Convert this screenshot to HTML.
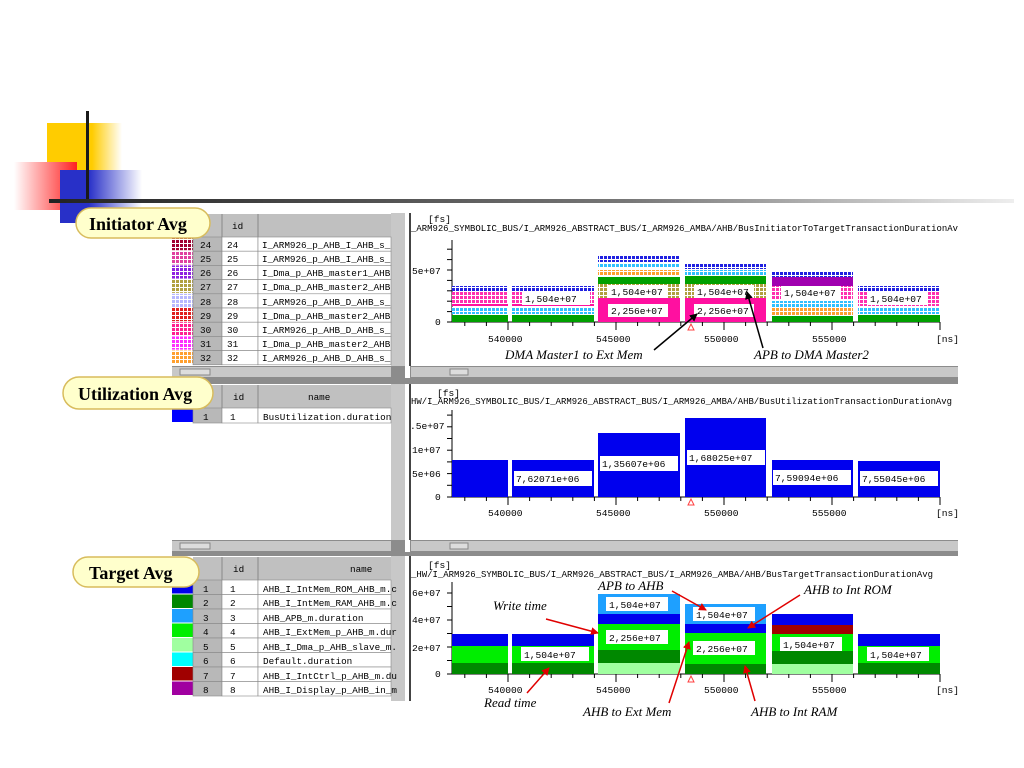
<!DOCTYPE html>
<html><head><meta charset="utf-8"><style>
html,body{margin:0;padding:0;background:#fff;width:1024px;height:768px;overflow:hidden}
svg{position:absolute;left:0;top:0}
.m{font-family:"Liberation Mono","DejaVu Sans Mono",monospace;font-size:9.3px;fill:#000}
.t{font-family:"Liberation Mono","DejaVu Sans Mono",monospace;font-size:9.6px;fill:#000}
.c{font-family:"Liberation Serif",serif;font-style:italic;font-size:13px;fill:#000}
.p{font-family:"Liberation Serif",serif;font-weight:bold;font-size:18px;fill:#000}
</style></head><body>
<svg width="1024" height="768" viewBox="0 0 1024 768" xmlns="http://www.w3.org/2000/svg">
<defs>
<linearGradient id="gy" x1="0" x2="1"><stop offset="0.6" stop-color="#ffcc00"/><stop offset="1" stop-color="#fff"/></linearGradient>
<linearGradient id="gr" x1="0" x2="1"><stop offset="0" stop-color="#fff"/><stop offset="1" stop-color="#ff2020"/></linearGradient>
<linearGradient id="gb" x1="0" x2="1"><stop offset="0.35" stop-color="#2830c8"/><stop offset="1" stop-color="#fff"/></linearGradient>
<linearGradient id="gl" x1="0" x2="1"><stop offset="0" stop-color="#222"/><stop offset="0.6" stop-color="#777"/><stop offset="1" stop-color="#eee"/></linearGradient>
<marker id="ab" markerWidth="8" markerHeight="8" refX="7" refY="4" orient="auto" markerUnits="userSpaceOnUse"><path d="M0,0 L8,4 L0,8 z" fill="#000"/></marker>
<marker id="ar" markerWidth="8" markerHeight="8" refX="7" refY="4" orient="auto" markerUnits="userSpaceOnUse"><path d="M0,0 L8,4 L0,8 z" fill="#e00000"/></marker>
</defs>

<!-- decoration -->
<rect x="47" y="123" width="75" height="47" fill="url(#gy)"/>
<rect x="14" y="162" width="63" height="48" fill="url(#gr)"/>
<rect x="60" y="170" width="82" height="53" fill="url(#gb)"/>
<rect x="86" y="111" width="3" height="92" fill="#1a1a1a"/>
<rect x="49" y="199" width="965" height="4" fill="url(#gl)"/>

<!-- frame backgrounds -->
<rect x="172" y="213" width="786" height="488" fill="#8c8c8c"/>
<g id="panels"></g>

<!-- Top table text -->
<g class="m">
<text x="232" y="229">id</text>
<text x="200" y="248">24</text><text x="227" y="248">24</text><text x="262" y="248">I_ARM926_p_AHB_I_AHB_s_</text>
<text x="200" y="262">25</text><text x="227" y="262">25</text><text x="262" y="262">I_ARM926_p_AHB_I_AHB_s_</text>
<text x="200" y="276">26</text><text x="227" y="276">26</text><text x="262" y="276">I_Dma_p_AHB_master1_AHB</text>
<text x="200" y="290">27</text><text x="227" y="290">27</text><text x="262" y="290">I_Dma_p_AHB_master2_AHB</text>
<text x="200" y="305">28</text><text x="227" y="305">28</text><text x="262" y="305">I_ARM926_p_AHB_D_AHB_s_</text>
<text x="200" y="319">29</text><text x="227" y="319">29</text><text x="262" y="319">I_Dma_p_AHB_master2_AHB</text>
<text x="200" y="333">30</text><text x="227" y="333">30</text><text x="262" y="333">I_ARM926_p_AHB_D_AHB_s_</text>
<text x="200" y="347">31</text><text x="227" y="347">31</text><text x="262" y="347">I_Dma_p_AHB_master2_AHB</text>
<text x="200" y="361">32</text><text x="227" y="361">32</text><text x="262" y="361">I_ARM926_p_AHB_D_AHB_s_</text>
<!-- middle -->
<text x="233" y="400">id</text><text x="308" y="400">name</text>
<text x="203" y="420">1</text><text x="230" y="420">1</text><text x="263" y="420">BusUtilization.duration</text>
<!-- bottom -->
<text x="233" y="572">id</text><text x="350" y="572">name</text>
<text x="203" y="592">1</text><text x="230" y="592">1</text><text x="263" y="592">AHB_I_IntMem_ROM_AHB_m.c</text>
<text x="203" y="606">2</text><text x="230" y="606">2</text><text x="263" y="606">AHB_I_IntMem_RAM_AHB_m.c</text>
<text x="203" y="621">3</text><text x="230" y="621">3</text><text x="263" y="621">AHB_APB_m.duration</text>
<text x="203" y="635">4</text><text x="230" y="635">4</text><text x="263" y="635">AHB_I_ExtMem_p_AHB_m.dur</text>
<text x="203" y="650">5</text><text x="230" y="650">5</text><text x="263" y="650">AHB_I_Dma_p_AHB_slave_m.</text>
<text x="203" y="664">6</text><text x="230" y="664">6</text><text x="263" y="664">Default.duration</text>
<text x="203" y="679">7</text><text x="230" y="679">7</text><text x="263" y="679">AHB_I_IntCtrl_p_AHB_m.du</text>
<text x="203" y="693">8</text><text x="230" y="693">8</text><text x="263" y="693">AHB_I_Display_p_AHB_in_m</text>
</g>

<g id="charts"></g>

<!-- chart titles & axis labels -->
<g class="t">
<text x="428" y="222">[fs]</text>
<text x="411" y="231" textLength="547" lengthAdjust="spacingAndGlyphs">_ARM926_SYMBOLIC_BUS/I_ARM926_ABSTRACT_BUS/I_ARM926_AMBA/AHB/BusInitiatorToTargetTransactionDurationAv</text>
<text x="412" y="274">5e+07</text><text x="435" y="325">0</text>
<text x="488" y="342">540000</text><text x="596" y="342">545000</text><text x="704" y="342">550000</text><text x="812" y="342">555000</text><text x="936" y="342">[ns]</text>

<text x="437" y="396">[fs]</text>
<text x="411" y="404" textLength="541" lengthAdjust="spacingAndGlyphs">HW/I_ARM926_SYMBOLIC_BUS/I_ARM926_ABSTRACT_BUS/I_ARM926_AMBA/AHB/BusUtilizationTransactionDurationAvg</text>
<text x="410" y="429">.5e+07</text><text x="412" y="453">1e+07</text><text x="412" y="477">5e+06</text><text x="435" y="500">0</text>
<text x="488" y="516">540000</text><text x="596" y="516">545000</text><text x="704" y="516">550000</text><text x="812" y="516">555000</text><text x="936" y="516">[ns]</text>

<text x="428" y="568">[fs]</text>
<text x="411" y="577" textLength="522" lengthAdjust="spacingAndGlyphs">_HW/I_ARM926_SYMBOLIC_BUS/I_ARM926_ABSTRACT_BUS/I_ARM926_AMBA/AHB/BusTargetTransactionDurationAvg</text>
<text x="412" y="596">6e+07</text><text x="412" y="623">4e+07</text><text x="412" y="651">2e+07</text><text x="435" y="677">0</text>
<text x="488" y="693">540000</text><text x="596" y="693">545000</text><text x="704" y="693">550000</text><text x="812" y="693">555000</text><text x="936" y="693">[ns]</text>
</g>

<!-- value labels -->
<g id="labels"></g>
<g class="t">
<text x="525" y="302">1,504e+07</text>
<text x="611" y="295">1,504e+07</text><text x="611" y="314">2,256e+07</text>
<text x="697" y="295">1,504e+07</text><text x="697" y="314">2,256e+07</text>
<text x="784" y="296">1,504e+07</text>
<text x="870" y="302">1,504e+07</text>
<text x="516" y="482">7,62071e+06</text><text x="602" y="467">1,35607e+06</text><text x="689" y="461">1,68025e+07</text><text x="775" y="481">7,59094e+06</text><text x="862" y="482">7,55045e+06</text>
<text x="524" y="658">1,504e+07</text>
<text x="609" y="608">1,504e+07</text><text x="609" y="641">2,256e+07</text>
<text x="696" y="618">1,504e+07</text><text x="696" y="652">2,256e+07</text>
<text x="783" y="648">1,504e+07</text>
<text x="870" y="658">1,504e+07</text>
</g>

<!-- pills -->
<g>
<rect x="76" y="208" width="134" height="30" rx="15" fill="#ffffcc" stroke="#d8bc5c" stroke-width="1.5"/>
<text class="p" x="89" y="230">Initiator Avg</text>
<rect x="63" y="377" width="150" height="32" rx="16" fill="#ffffcc" stroke="#d8bc5c" stroke-width="1.5"/>
<text class="p" x="78" y="400">Utilization Avg</text>
<rect x="73" y="557" width="126" height="30" rx="15" fill="#ffffcc" stroke="#d8bc5c" stroke-width="1.5"/>
<text class="p" x="89" y="579">Target Avg</text>
</g>

<!-- callouts -->
<g class="c">
<text x="505" y="359">DMA Master1 to Ext Mem</text>
<text x="754" y="359">APB to DMA Master2</text>
<text x="598" y="590">APB to AHB</text>
<text x="804" y="594">AHB to Int ROM</text>
<text x="493" y="610">Write time</text>
<text x="484" y="707">Read time</text>
<text x="583" y="716">AHB to Ext Mem</text>
<text x="751" y="716">AHB to Int RAM</text>
</g>
<g fill="none" stroke-width="1.5">
<line x1="654" y1="350" x2="697" y2="314" stroke="#000" marker-end="url(#ab)"/>
<line x1="763" y1="348" x2="747" y2="292" stroke="#000" marker-end="url(#ab)"/>
<line x1="672" y1="591" x2="706" y2="610" stroke="#e00000" marker-end="url(#ar)"/>
<line x1="800" y1="595" x2="748" y2="628" stroke="#e00000" marker-end="url(#ar)"/>
<line x1="546" y1="619" x2="598" y2="633" stroke="#e00000" marker-end="url(#ar)"/>
<line x1="527" y1="693" x2="549" y2="668" stroke="#e00000" marker-end="url(#ar)"/>
<line x1="669" y1="703" x2="689" y2="642" stroke="#e00000" marker-end="url(#ar)"/>
<line x1="755" y1="701" x2="745" y2="666" stroke="#e00000" marker-end="url(#ar)"/>
</g>
</svg>
<script>
var NS="http://www.w3.org/2000/svg",svg=document.querySelector('svg');
function el(p,n,a){var e=document.createElementNS(NS,n);for(var k in a)e.setAttribute(k,a[k]);p.appendChild(e);return e}
var defs=svg.querySelector('defs'),pid=0;
function pat(c){var id='p'+(pid++);var p=el(defs,'pattern',{id:id,width:4,height:4,patternUnits:'userSpaceOnUse'});el(p,'rect',{width:4,height:4,fill:'#fff'});el(p,'rect',{width:3,height:3,fill:c});return 'url(#'+id+')'}
var P=document.getElementById('panels');
// panels
[[213,366],[384,540],[556,701]].forEach(function(r,i){
 el(P,'rect',{x:172,y:r[0],width:219,height:r[1]-r[0],fill:'#fff'});
 el(P,'rect',{x:391,y:r[0],width:14,height:r[1]-r[0],fill:'#c8c8c8'});
 el(P,'rect',{x:405,y:r[0],width:5,height:r[1]-r[0]+(i<2?12:0),fill:'#fff'});
 el(P,'rect',{x:410,y:r[0],width:548,height:r[1]-r[0],fill:'#fff'});
 el(P,'rect',{x:409,y:r[0],width:2,height:r[1]-r[0],fill:'#444'});
 if(i<2){var s=r[1]+1;el(P,'rect',{x:172,y:s,width:219,height:10,fill:'#c8c8c8'});el(P,'rect',{x:411,y:s,width:547,height:10,fill:'#c8c8c8'});
  el(P,'rect',{x:180,y:s+2,width:30,height:6,fill:'#ddd',stroke:'#888'});el(P,'rect',{x:450,y:s+2,width:18,height:6,fill:'#ddd',stroke:'#888'});}
});
// tables
function table(y0,hh,rh,rows,cols,named){
 el(P,'rect',{x:193,y:y0,width:198,height:hh,fill:'#c0c0c0'});
 el(P,'line',{x1:222,y1:y0,x2:222,y2:y0+hh,stroke:'#888'});el(P,'line',{x1:258,y1:y0,x2:258,y2:y0+hh,stroke:'#888'});
 for(var i=0;i<rows;i++){var y=y0+hh+i*rh;
  el(P,'rect',{x:172,y:y,width:21,height:rh-1,fill:cols[i]});
  el(P,'rect',{x:193,y:y,width:29,height:rh,fill:'#b8b8b8',stroke:'#888','stroke-width':0.6});
  el(P,'rect',{x:222,y:y,width:36,height:rh,fill:'#fff',stroke:'#888','stroke-width':0.6});
  el(P,'rect',{x:258,y:y,width:133,height:rh,fill:'#fff',stroke:'#888','stroke-width':0.6});}
}
table(214,23,14.2,9,['#a00030','#e040a0','#9020e0','#b0a040','#b8b8ff','#e02020','#ff2090','#ff30ff','#ffa030'].map(pat));
table(385,23,15,1,['#0000ff']);
table(557,23,14.5,8,['#0000ee','#008800','#1ea0ff','#00ee00','#a0ffa0','#00ffff','#a00000','#a000a0']);
// charts
var C=document.getElementById('charts');
var xs=[[452,508],[512,594],[598,680],[685,766],[772,853],[858,940]];
function axes(y0,ytop,step){
 el(C,'line',{x1:452,y1:ytop,x2:452,y2:y0,stroke:'#000'});
 el(C,'line',{x1:452,y1:y0,x2:940,y2:y0,stroke:'#000'});
 for(var y=y0;y>=ytop;y-=step)el(C,'line',{x1:447,y1:y,x2:452,y2:y,stroke:'#000'});
 for(var k=-2;k<=20;k++){var x=508+21.6*k;el(C,'line',{x1:x,y1:y0,x2:x,y2:y0+(k%5==0?8:4),stroke:'#000'});}
 el(C,'path',{d:'M691,'+(y0+2)+' l-3,6 h6 z',fill:'none',stroke:'#ff4040'});
}
function stacks(list){list.forEach(function(b,i){var x=xs[i][0],w=xs[i][1]-xs[i][0];b.forEach(function(s){el(C,'rect',{x:x,y:s[0],width:w,height:s[1]-s[0],fill:s[2]})})})}
axes(322,240,10.4);
var B=pat('#2020e0'),Cy=pat('#30c0ff'),O=pat('#ffa030'),G='#00a000',Ol=pat('#b0a040'),Pk='#ff10a0',Pg=pat('#ff30b0'),Pu='#a000b0';
stacks([
 [[286,291,B],[292,305,Pg],[304,306,Pk],[307,314,Cy],[315,322,G]],
 [[286,291,B],[292,305,Pg],[304,306,Pk],[307,314,Cy],[315,322,G]],
 [[256,262,B],[263,268,Cy],[270,276,O],[277,284,G],[284,298,Ol],[298,322,Pk]],
 [[263,269,B],[270,275,Cy],[276,284,G],[284,298,Ol],[298,322,Pk]],
 [[271,277,B],[277,286,Pu],[286,300,Pg],[301,307,Cy],[308,315,O],[316,322,G]],
 [[286,291,B],[292,306,Pg],[307,314,Cy],[315,322,G]]
]);
axes(497,410,11.7);
stacks([[[460,497,'#0000ee']],[[460,497,'#0000ee']],[[433,497,'#0000ee']],[[418,497,'#0000ee']],[[460,497,'#0000ee']],[[461,497,'#0000ee']]]);
axes(674,582,13.5);
var Bl='#0000ee',Gr='#00ee00',Dg='#008800',Lb='#1ea0ff',Pa='#a0ffa0',Dr='#a00000';
stacks([
 [[634,646,Bl],[646,663,Gr],[663,674,Dg]],
 [[634,646,Bl],[646,663,Gr],[663,674,Dg]],
 [[594,614,Lb],[614,624,Bl],[624,650,Gr],[650,663,Dg],[663,674,Pa]],
 [[604,624,Lb],[624,633,Bl],[633,664,Gr],[664,674,Dg]],
 [[614,625,Bl],[625,634,Dr],[634,651,Gr],[651,664,Dg],[664,674,Pa]],
 [[634,646,Bl],[646,663,Gr],[663,674,Dg]]
]);
// label boxes
var L=document.getElementById('labels');
[[522,292,68,13],[608,285,60,13],[608,304,60,13],[694,285,60,13],[694,304,60,13],[781,286,60,13],[867,292,60,13],
 [514,471,78,15],[600,456,78,15],[687,450,78,15],[773,470,78,15],[860,471,78,15],
 [521,647,68,14],[606,597,62,14],[606,630,62,14],[693,607,62,14],[693,641,62,14],[780,637,62,14],[867,647,62,14]
].forEach(function(r){el(L,'rect',{x:r[0],y:r[1],width:r[2],height:r[3],fill:'#fff'})});
</script>
</body></html>
